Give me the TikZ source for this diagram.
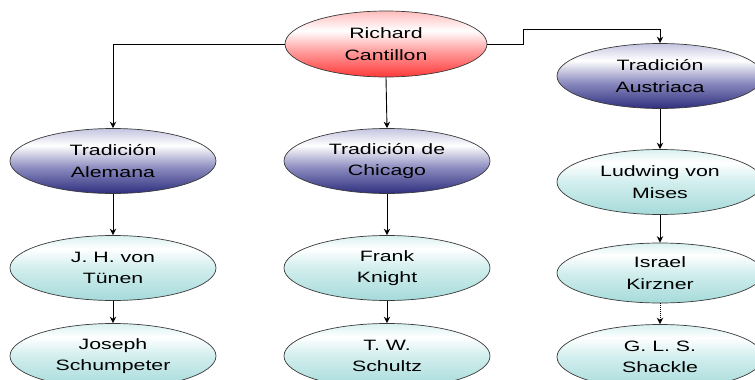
\documentclass[tikz,border=0pt]{standalone}
\usepackage{fontspec}
\setmainfont[FakeStretch=1.42]{Liberation Sans}
\usetikzlibrary{shapes.geometric,arrows.meta}
\definecolor{rA}{HTML}{FF3838}
\definecolor{rB}{HTML}{FFA0A0}
\definecolor{rC}{HTML}{FFBCBC}
\definecolor{bA}{HTML}{2E2E7E}
\definecolor{bB}{HTML}{8C8CC0}
\definecolor{bC}{HTML}{C4C4E0}
\definecolor{cA}{HTML}{A6DADA}
\definecolor{cB}{HTML}{D2EEEE}
\definecolor{cC}{HTML}{D8F0F0}
\definecolor{edge}{HTML}{3A3A3A}
\pgfdeclareverticalshading{redsh}{100bp}{color(0bp)=(rA); color(25bp)=(rA); color(45bp)=(rB); color(60bp)=(white); color(75bp)=(rC); color(100bp)=(rC)}
\pgfdeclareverticalshading{bluesh}{100bp}{color(0bp)=(bA); color(25bp)=(bA); color(45bp)=(bB); color(62bp)=(white); color(75bp)=(bC); color(100bp)=(bC)}
\pgfdeclareverticalshading{cyansh}{100bp}{color(0bp)=(cA); color(25bp)=(cA); color(50bp)=(cB); color(65bp)=(white); color(75bp)=(cC); color(100bp)=(cC)}
\tikzset{
  ell/.style={ellipse, draw=edge, line width=0.7pt, minimum width=206pt, minimum height=65pt, inner sep=0pt, align=center, font=\fontsize{15}{21.5}\selectfont},
  redell/.style={ell, shading=redsh, minimum width=202pt, minimum height=66pt},
  blueell/.style={ell, shading=bluesh},
  cyanell/.style={ell, shading=cyansh},
  arr/.style={draw=black, line width=0.9pt, -{Stealth[length=6.5pt,width=6.5pt]}},
  darr/.style={arr, densely dotted}
}
\begin{document}
\begin{tikzpicture}[x=1pt,y=-1pt]
\useasboundingbox (0,0) rectangle (755,380);
\node[redell] (R) at (386,44) {Richard\\Cantillon};
\node[blueell] (A) at (113,161) {Tradición\\Alemana};
\node[blueell] (C) at (387,161) {Tradición de\\Chicago};
\node[blueell] (Au) at (660,76) {Tradición\\Austriaca};
\node[cyanell] (T) at (113,268) {J. H. von\\Tünen};
\node[cyanell] (S) at (113,356) {Joseph\\Schumpeter};
\node[cyanell] (K) at (387,268) {Frank\\Knight};
\node[cyanell] (W) at (387,356) {T. W.\\Schultz};
\node[cyanell] (M) at (660,182) {Ludwing von\\Mises};
\node[cyanell, minimum height=60pt] (I) at (660,273) {Israel\\Kirzner};
\node[cyanell] (G) at (660,357) {G. L. S.\\Shackle};
\coordinate (k1) at (523,29);
\draw[arr] (R.west) -| (A.north);
\draw[arr] (R.south) -- (C.north);
\draw[arr] (R.east) -| (k1) -| (Au.north);
\draw[arr] (A.south) -- (T.north);
\draw[arr] (T.south) -- (S.north);
\draw[arr] (C.south) -- (K.north);
\draw[arr] (K.south) -- (W.north);
\draw[arr] (Au.south) -- (M.north);
\draw[arr] (M.south) -- (I.north);
\draw[darr] (I.south) -- (G.north);
\end{tikzpicture}
\end{document}
